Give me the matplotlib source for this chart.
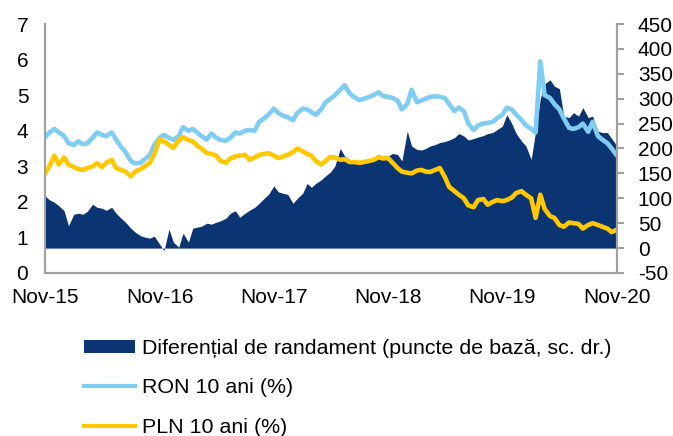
import matplotlib
matplotlib.use("Agg")
import matplotlib.pyplot as plt
import matplotlib.dates as mdates
from matplotlib.patches import Patch
from matplotlib.lines import Line2D
import pandas as pd

# ── data (semi-monthly readings, Nov 2015 – Nov 2020) ─────────────────
dates = pd.date_range("2015-11-01", periods=121, freq="SMS")

ron_10y = [
    3.82, 3.95, 4.05, 3.95, 3.85, 3.65, 3.60, 3.70, 3.62, 3.65,
    3.80, 3.95, 3.88, 3.85, 3.95, 3.75, 3.55, 3.40, 3.15, 3.08,
    3.10, 3.20, 3.32, 3.60, 3.80, 3.88, 3.80, 3.74, 3.85, 4.10,
    4.00, 4.05, 3.95, 3.85, 3.75, 3.92, 3.80, 3.74, 3.72, 3.80,
    3.95, 3.92, 4.00, 4.02, 4.00, 4.25, 4.35, 4.45, 4.62, 4.50,
    4.42, 4.38, 4.30, 4.50, 4.62, 4.60, 4.52, 4.45, 4.60, 4.80,
    4.90, 5.00, 5.15, 5.28, 5.05, 4.95, 4.86, 4.90, 4.95, 5.00,
    5.08, 4.98, 4.95, 4.92, 4.85, 4.60, 4.75, 5.15, 4.80, 4.85,
    4.90, 4.95, 4.97, 4.95, 4.92, 4.75, 4.55, 4.65, 4.55, 4.20,
    4.02, 4.15, 4.20, 4.22, 4.25, 4.35, 4.45, 4.65, 4.60, 4.45,
    4.30, 4.15, 4.05, 3.95, 5.95, 5.00, 4.92, 4.75, 4.60, 4.35,
    4.08, 4.05, 4.10, 4.20, 3.97, 4.25, 3.85, 3.75, 3.65, 3.50,
    3.30,
]

pln_10y = [
    2.80, 3.00, 3.30, 3.05, 3.25, 3.05, 2.98, 2.92, 2.90, 2.95,
    3.00, 3.09, 2.98, 3.10, 3.18, 2.95, 2.90, 2.85, 2.72, 2.85,
    2.92, 3.00, 3.10, 3.35, 3.75, 3.70, 3.60, 3.52, 3.72, 3.82,
    3.74, 3.70, 3.58, 3.50, 3.37, 3.35, 3.30, 3.15, 3.10, 3.22,
    3.28, 3.30, 3.32, 3.18, 3.25, 3.32, 3.35, 3.37, 3.30, 3.23,
    3.28, 3.32, 3.40, 3.50, 3.42, 3.35, 3.30, 3.15, 3.05, 3.15,
    3.26, 3.25, 3.18, 3.20, 3.12, 3.12, 3.10, 3.12, 3.15, 3.18,
    3.25, 3.22, 3.23, 3.10, 2.95, 2.85, 2.82, 2.80, 2.88, 2.90,
    2.85, 2.84, 2.90, 2.95, 2.70, 2.42, 2.30, 2.20, 2.10, 1.90,
    1.85, 2.05, 2.08, 1.92, 2.00, 2.05, 2.02, 2.05, 2.12, 2.25,
    2.30, 2.20, 2.10, 1.55, 2.20, 1.80, 1.60, 1.55, 1.35, 1.30,
    1.42, 1.40, 1.38, 1.25, 1.35, 1.40, 1.35, 1.30, 1.25, 1.15,
    1.22,
]

spread_bp = [
    105, 97, 92, 85, 75, 45, 68, 70, 68, 74,
    88, 82, 80, 76, 82, 70, 60, 52, 40, 32,
    25, 22, 20, 24, 8, -5, 38, 12, 2, 30,
    12, 40, 42, 44, 50, 48, 52, 55, 60, 70,
    75, 62, 70, 76, 82, 90, 100, 108, 125, 113,
    110, 108, 90, 100, 110, 130, 122, 130, 137, 145,
    153, 165, 200, 185, 178, 172, 168, 170, 172, 180,
    188, 182, 185, 190, 188, 175, 235, 205, 198, 197,
    200, 205, 208, 212, 214, 217, 222, 230, 225, 217,
    220, 223, 226, 230, 232, 238, 245, 268, 250, 230,
    215, 205, 178, 235, 300, 330, 338, 325, 320, 265,
    262, 272, 265, 282, 262, 265, 235, 232, 232, 220,
    205,
]

labels = [
    "Diferențial de randament (puncte de bază, sc. dr.)",
    "RON 10 ani (%)",
    "PLN 10 ani (%)",
]

NAVY = "#0b3473"
SKY = "#7fcdf3"
GOLD = "#ffc800"
GREY = "#a0a0a0"

plt.rcParams["font.family"] = ["Liberation Sans", "DejaVu Sans"]
plt.rcParams["font.size"] = 15
plt.rcParams["axes.unicode_minus"] = False

fig = plt.figure(figsize=(6.73, 4.36), dpi=100)
ax = fig.add_axes([45 / 673, 1 - 273 / 436, 572 / 673, 249 / 436])
ax2 = ax.twinx()

# spread area on the right axis, behind the yield lines
ax2.fill_between(dates, 0, spread_bp, color=NAVY, linewidth=0)
ax.set_zorder(ax2.get_zorder() + 1)
ax.patch.set_visible(False)

ax.plot(dates, ron_10y, color=SKY, linewidth=3.3, solid_joinstyle="round")
ax.plot(dates, pln_10y, color=GOLD, linewidth=3.3, solid_joinstyle="round")

ax.set_ylim(0, 7)
ax.set_yticks(range(0, 8))
ax2.set_ylim(-50, 450)
ax2.set_yticks(range(-50, 451, 50))
ax.set_xlim(dates[0], dates[-1])
ax.set_xticks([pd.Timestamp(f"{y}-11-01") for y in range(2015, 2021)])
ax.xaxis.set_major_formatter(mdates.DateFormatter("%b-%y"))

for a in (ax, ax2):
    a.spines["top"].set_visible(False)
    for s in ("left", "right", "bottom"):
        a.spines[s].set_color(GREY)
        a.spines[s].set_linewidth(1.5)
ax.tick_params(axis="y", length=0, pad=12)
ax.tick_params(axis="x", length=0, pad=11)
ax2.tick_params(axis="y", length=5, width=1.5, color=GREY, pad=10)

handles = [
    Patch(facecolor=NAVY, edgecolor="none"),
    Line2D([], [], color=SKY, linewidth=3),
    Line2D([], [], color=GOLD, linewidth=3),
]
fig.legend(handles, labels, loc="upper left",
           bbox_to_anchor=(84 / 673, 1 - 339 / 436),
           frameon=False, borderpad=0, borderaxespad=0,
           prop={"size": 15.4},
           handlelength=2.4, handleheight=0.5, handletextpad=0.3,
           labelspacing=0.95)

fig.savefig("out.png", dpi=100)
